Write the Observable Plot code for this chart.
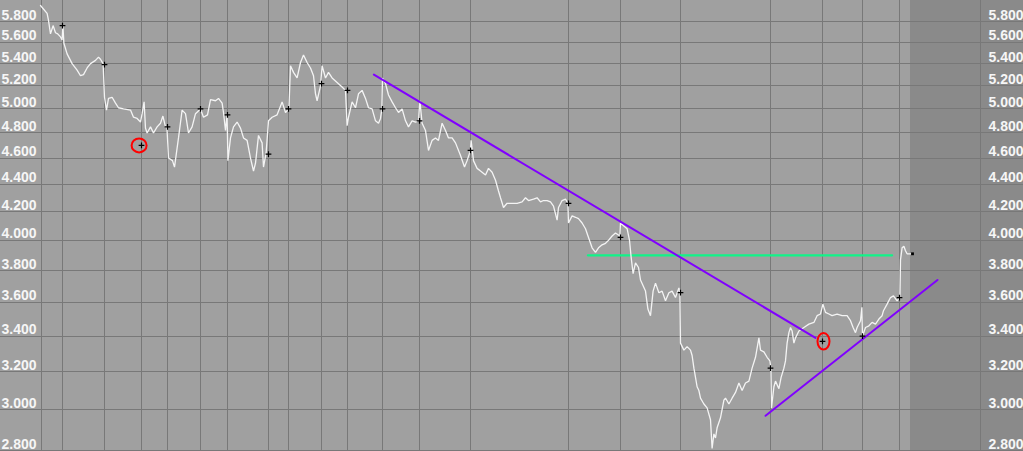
<!DOCTYPE html>
<html>
<head>
<meta charset="utf-8">
<script src="https://cdn.jsdelivr.net/npm/d3@7"></script>
<script src="https://cdn.jsdelivr.net/npm/@observablehq/plot@0.6"></script>
<style>
  html, body { margin: 0; padding: 0; background: #a0a0a0; overflow: hidden; }
  svg { display: block; }
</style>
</head>
<body>
<div id="chart"></div>
<script>
// ---- data (trading-session index vs price) ----
const priceDays = [0,3.3,4,5,6.3,7.5,8.6,10,10.8,11.2,11.7,13.3,15.8,18.3,20,21.5,23.3,25,27.5,29,30,31.3,32,33,34,35.8,37.5,39,41.5,45,46.5,48.3,50,50.8,51.8,52.5,53.3,55,56.5,58.3,60,61.2,62.5,63.2,64,66,67,69,70.8,72.5,74,75.8,77.5,80,
81.5,83.5,85,87.5,89,90.8,91.5,92.5,93.3,93.7,95,96.5,98.3,100,101.5,103.3,105,106.5,107.5,109,110.8,111.5,112.8,114,115.8,118.3,120.8,122.5,124.2,125,126.5,128.3,130,131.5,133.3,135,136.5,137.5,138.3,140,140.8,142.5,144,145.8,148.3,150.8,152.5,153.3,154,155.8,157.5,159,160.8,162.5,164,165.8,167.5,169,170,170.7,171,172.5,174,175.8,177.5,179,180.8,182.5,184,185.8,187.5,189,189.7,190.8,192.5,194,195.8,197.5,199,200.8,202.5,204,
205.8,207.5,210,212,213.3,215,215.3,216.5,218.3,220,222.5,224,225.8,227.5,229,230,231.5,233.3,235.8,238.3,240.8,242.5,244,246.5,248.3,250,251.5,253.3,255,256.5,258.3,259,260.8,262.5,263.7,264,265.8,267.5,269,270.8,272.5,274,275.8,277.5,279,280.8,282.5,284,285.8,287.5,289.7,290,291.5,293.3,294.5,295.3,296.3,297.5,299,300,302.5,303.7,305,306.3,307.5,309.2,310.8,312.5,314.2,315.8,317.5,319.2,319.7,
320,321.7,323.3,325,325.8,326.7,327.5,328.3,329.2,330,331.7,333.3,335,335.8,336.7,337.5,338.3,340,341.7,342.5,344.2,345.8,347.5,349.2,350.8,352.5,354.2,355.8,357.5,359.2,360,361.7,363.3,364.7,365.2,365.5,366.7,367.5,369.2,370.3,371.7,372.5,373.3,374.2,375,375.8,376.7,377.5,379.2,381.7,384.2,386.7,388.3,390,391.2,392.5,394.2,395.8,398.3,400.8,403.3,405,406.3,407.5,408.3,410,410.7,411,412.5,414.2,415.8,417.5,419.2,420.8,421.5,423.3,425,426.5,428.3,429.7,430,430.8,431.7,432.5,433.3,434.7,435.3];
const priceValues = [5.96,5.88,5.81,5.68,5.76,5.69,5.68,5.65,5.62,5.76,5.59,5.49,5.40,5.34,5.29,5.30,5.36,5.40,5.43,5.46,5.44,5.40,5.10,4.99,5.09,5.10,5.05,5.01,5.00,4.99,4.93,4.92,4.89,4.96,5.06,4.84,4.80,4.85,4.80,4.85,4.88,4.94,4.85,4.85,4.60,4.58,4.53,4.76,4.99,4.96,4.80,4.85,4.96,5.00,
4.93,4.95,5.08,5.07,5.09,5.05,4.97,4.82,4.95,4.58,4.76,4.85,4.89,4.84,4.76,4.74,4.60,4.50,4.56,4.78,4.72,4.53,4.64,4.90,4.93,4.95,5.06,4.97,5.00,5.38,5.32,5.27,5.41,5.48,5.41,5.36,5.29,5.13,5.07,5.20,5.38,5.27,5.32,5.27,5.23,5.19,5.16,4.86,4.93,5.06,5.01,5.13,5.16,5.09,5.01,5.00,4.90,4.88,4.92,5.00,5.27,5.22,5.12,5.06,5.01,4.97,5.00,4.90,4.85,4.90,4.89,4.90,5.07,4.88,4.82,4.66,4.74,4.76,4.74,4.88,4.82,4.76,
4.76,4.72,4.62,4.53,4.58,4.66,4.74,4.58,4.52,4.50,4.47,4.52,4.49,4.43,4.35,4.30,4.23,4.26,4.26,4.26,4.27,4.30,4.28,4.29,4.30,4.27,4.28,4.28,4.27,4.24,4.14,4.23,4.28,4.29,4.26,4.12,4.17,4.16,4.15,4.12,4.08,4.02,3.95,3.92,3.95,3.97,3.98,4.00,4.03,4.05,4.03,4.12,4.10,4.08,4.00,3.89,3.78,3.85,3.82,3.74,3.67,3.56,3.52,3.67,3.72,3.66,3.67,3.61,3.66,3.67,3.63,3.69,3.66,
3.36,3.32,3.34,3.32,3.29,3.22,3.17,3.12,3.10,3.06,3.03,3.01,2.95,2.81,2.88,2.86,2.91,2.96,3.05,3.06,3.03,3.06,3.09,3.14,3.10,3.14,3.15,3.22,3.28,3.39,3.32,3.31,3.28,3.26,3.22,3.01,3.12,3.15,3.11,3.17,3.22,3.26,3.36,3.42,3.45,3.43,3.36,3.39,3.43,3.45,3.47,3.48,3.52,3.53,3.59,3.54,3.53,3.52,3.53,3.52,3.52,3.49,3.45,3.42,3.45,3.49,3.57,3.40,3.45,3.46,3.48,3.47,3.50,3.52,3.55,3.59,3.63,3.64,3.61,3.63,3.87,3.95,3.96,3.93,3.91,3.91,3.91];

// vertical separators (session indices) and period markers on them
const gridDays = [0.5,11,32,50.5,63.5,80,93.5,114,124,140.5,153.5,171,189.5,215,264,290,320,365,391,411,429.5];
const markerDays = [11,32,50.5,63.5,80,93.5,114,124,140.5,153.5,171,189.5,215,264,290,320,365,391,411,429.5];
const markerValues = [5.76,5.39,4.70,4.85,5.00,4.95,4.63,5.00,5.22,5.16,5.00,4.90,4.66,4.26,4.02,3.66,3.22,3.37,3.40,3.63];
const lastDay = [436];
const lastValue = [3.91];

// price ticks
const priceTicks = [5.8,5.6,5.4,5.2,5.0,4.8,4.6,4.4,4.2,4.0,3.8,3.6,3.4,3.2,3.0,2.8];

// drawn trend lines
const downTrendDays = [166.7, 387.5];
const downTrendValues = [5.30, 3.39];
const upTrendDays = [362.5, 448.5];
const upTrendValues = [2.97, 3.74];
const levelDays = [273.7, 425.8];
const levelValues = [3.90, 3.90];

// highlighted markers (red ellipses)
const circleDays = [49.3, 391.5];
const circleValues = [4.70, 3.37];

// empty (future) zone
const zoneStart = 435;
const zoneEnd = 470;

// ---- build ----
const price = priceDays.map((d, i) => ({d, v: priceValues[i]}));
const markers = markerDays.map((d, i) => ({d, v: markerValues[i]}));
const lastPt = lastDay.map((d, i) => ({d, v: lastValue[i]}));
const pair = (ds, vs) => ds.map((d, i) => ({d, v: vs[i]}));

function ellipse(ax, ay) {
  return {
    draw(ctx, size) {
      const r = Math.sqrt(size / Math.PI);
      const rx = r * ax, ry = r * ay, k = 0.5523;
      ctx.moveTo(rx, 0);
      ctx.bezierCurveTo(rx, ry * k, rx * k, ry, 0, ry);
      ctx.bezierCurveTo(-rx * k, ry, -rx, ry * k, -rx, 0);
      ctx.bezierCurveTo(-rx, -ry * k, -rx * k, -ry, 0, -ry);
      ctx.bezierCurveTo(rx * k, -ry, rx, -ry * k, rx, 0);
      ctx.closePath();
    }
  };
}

const labelStyle = {fill: "#f6f6f6", fontSize: 14, fontWeight: "bold", fontFamily: "Liberation Sans, Arial, sans-serif", lineAnchor: "bottom", textAnchor: "start"};

const chart = Plot.plot({
  width: 1023,
  height: 451,
  marginLeft: 40,
  marginRight: 43,
  marginTop: 21,
  marginBottom: 1,
  style: {background: "#a0a0a0", overflow: "visible"},
  x: {domain: [0, zoneEnd], axis: null},
  y: {type: "log", domain: [2.8, 5.8], axis: null},
  marks: [
    Plot.rect([0], {x1: zoneStart, x2: zoneEnd, y1: 2.8, y2: 5.8, fill: "#8a8a8a", insetTop: -21, insetBottom: -1, insetRight: -43}),
    Plot.ruleY(priceTicks, {stroke: "#787878", strokeWidth: 1, insetLeft: -40, insetRight: -43, shapeRendering: "crispEdges"}),
    Plot.ruleX(gridDays, {stroke: "#787878", strokeWidth: 1, insetTop: -21, insetBottom: -1, shapeRendering: "crispEdges"}),
    Plot.ruleX([zoneEnd], {stroke: "#787878", strokeWidth: 1, insetTop: -21, insetBottom: -1, shapeRendering: "crispEdges"}),
    Plot.text(priceTicks, {y: d => d, frameAnchor: "left", dx: -39, dy: -2, text: d => d3.format(".3f")(d), ...labelStyle}),
    Plot.text(priceTicks, {y: d => d, frameAnchor: "right", dx: 8, dy: -2, text: d => d3.format(".3f")(d), ...labelStyle}),
    Plot.line(pair(levelDays, levelValues), {x: "d", y: "v", stroke: "#10f488", strokeWidth: 2.2}),
    Plot.line(price, {x: "d", y: "v", stroke: "#f4f4f4", strokeWidth: 1.3, strokeLinejoin: "miter"}),
    Plot.line(pair(downTrendDays, downTrendValues), {x: "d", y: "v", stroke: "#8000ff", strokeWidth: 2}),
    Plot.line(pair(upTrendDays, upTrendValues), {x: "d", y: "v", stroke: "#8000ff", strokeWidth: 2}),
    Plot.dot(markers, {x: "d", y: "v", symbol: "plus", r: 2, stroke: "#000", strokeWidth: 1.2}),
    Plot.dot(lastPt, {x: "d", y: "v", symbol: "square", r: 1.6, fill: "#000"}),
    Plot.dot([0], {x: circleDays[0], y: circleValues[0], r: 7, symbol: ellipse(1.07, 1.0), stroke: "#ff0000", strokeWidth: 2, fill: "none"}),
    Plot.dot([0], {x: circleDays[1], y: circleValues[1], r: 7, symbol: ellipse(0.86, 1.18), stroke: "#ff0000", strokeWidth: 2, fill: "none"})
  ]
});
document.getElementById("chart").appendChild(chart);
</script>
</body>
</html>
